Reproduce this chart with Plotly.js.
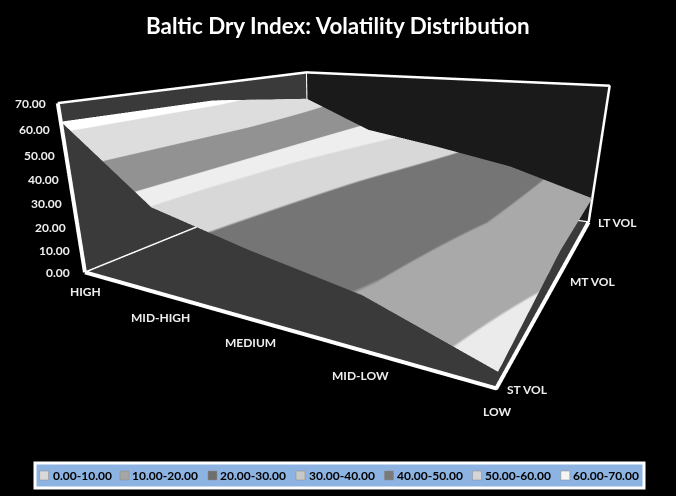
<!DOCTYPE html>
<html><head><meta charset="utf-8"><script src="https://cdn.plot.ly/plotly-3.0.1.min.js"></script>
<style>html,body{margin:0;padding:0;background:#000}#c{width:676px;height:496px}</style></head>
<body><div id="c"></div>
<script>
var categories=['HIGH','MID-HIGH','MEDIUM','MID-LOW','LOW'];
var seriesNames=['ST VOL','MT VOL','LT VOL'];
var stVol=[63,35,26.5,19.5,5.5];
var mtVol=[62,36,29,23,13];
var ltVol=[54,38,32,25,13];
var zTicks=[0,10,20,30,40,50,60,70];
var bandNames=['0.00-10.00','10.00-20.00','20.00-30.00','30.00-40.00','40.00-50.00','50.00-60.00','60.00-70.00'];
var swatchColors=['#d9d9d9','#a6a6a6','#6f6f6f','#c8c8c8','#7a7a7a','#d5d5d5','#f5f5f5'];
var bandEdges=[0,10,20,30,35.5,40,50,60,70];
var bandColors=['#ebebeb','#a9a9a9','#757575','#d8d8d8','#eeeeee','#929292','#dddddd','#ffffff'];
var P=[0.771,-1.536,0.406,0.137,-0.412,-0.077,1.123,1.139,0.449];
var catShift=[[1,-19],[-1,-24],[-1,-23],[-1,-25],[1,-23]];
var serShift=[[31,-1],[36,-1],[29,-1]];

var cs=[];bandColors.forEach(function(c,i){cs.push([bandEdges[i]/70,c]);cs.push([bandEdges[i+1]/70,c]);});
var axis={showgrid:false,zeroline:false,showticklabels:false,ticks:'',showspikes:false,title:{text:''},showbackground:true,showline:false};
var lf={family:'Lato',size:12,color:'#eee',weight:700};
var ann=[];
zTicks.forEach(function(v){ann.push({x:0,y:0,z:v,text:v.toFixed(2),showarrow:false,xshift:-27,yshift:0,font:lf})});
categories.forEach(function(c,i){ann.push({x:i,y:0,z:0,text:c,showarrow:false,xshift:catShift[i][0],yshift:catShift[i][1],font:lf})});
seriesNames.forEach(function(c,i){ann.push({x:4,y:i,z:0,text:c,showarrow:false,xshift:serShift[i][0],yshift:serShift[i][1],font:lf})});
var frameThin={type:'scatter3d',mode:'lines',hoverinfo:'skip',showlegend:false,line:{color:'#fff',width:5},
 x:[0,0,null,0,0,4,4,null,0,0,null,0,4],
 y:[2,0,null,0,2,2,2,null,2,2,null,2,2],
 z:[0,0,null,70,70,70,0,null,0,70,null,0,0]};
var frameThick={type:'scatter3d',mode:'lines',hoverinfo:'skip',showlegend:false,line:{color:'#fff',width:8},
 x:[0,0,null,0,4,4],
 y:[0,0,null,0,0,2],
 z:[70,0,null,0,0,0]};
var surf={type:'surface',x:[0,1,2,3,4],y:[0,1,2],z:[stVol,mtVol,ltVol],cmin:0,cmax:70,colorscale:cs,showscale:false,hoverinfo:'skip',
 lighting:{ambient:1,diffuse:0,specular:0,roughness:1,fresnel:0},contours:{x:{show:false},y:{show:false},z:{show:false}}};
var shapes=[{type:'rect',xref:'paper',yref:'paper',x0:35/676,x1:644/676,y0:1-488/496,y1:1-463/496,fillcolor:'#8db3e2',line:{color:'#fff',width:3}}];
var swX=[39.6,120,208,296,384.5,472.5,560.8],lbX=[50.6,130,218,306.6,394.7,483,571];
var anns=[{xref:'paper',yref:'paper',x:338/676,y:1-26/496,yanchor:'middle',text:'Baltic Dry Index: Volatility Distribution',showarrow:false,font:{family:'Lato',size:22.4,color:'#fff',weight:700}}];
bandNames.forEach(function(n,i){shapes.push({type:'rect',xref:'paper',yref:'paper',x0:swX[i]/676,x1:(swX[i]+9)/676,y0:1-480/496,y1:1-471/496,fillcolor:swatchColors[i],line:{color:'#888',width:.5}});
 anns.push({xref:'paper',yref:'paper',x:lbX[i]/676,y:1-475.5/496,xanchor:'left',yanchor:'middle',text:n,showarrow:false,font:{family:'Lato',size:12,color:'#000',weight:700}});});
var layout={width:676,height:496,margin:{l:0,r:0,t:0,b:0},paper_bgcolor:'#000',showlegend:false,shapes:shapes,annotations:anns,
 scene:{domain:{x:[0,1],y:[0,1]},bgcolor:'#000',aspectmode:'manual',aspectratio:{x:P[6],y:P[7],z:P[8]},
 camera:{eye:{x:P[0],y:P[1],z:P[2]},center:{x:P[3],y:P[4],z:P[5]},up:{x:0,y:0,z:1},projection:{type:'perspective'}},
 xaxis:Object.assign({},axis,{range:[0,4],backgroundcolor:'#3a3a3a'}),
 yaxis:Object.assign({},axis,{range:[0,2],backgroundcolor:'#1a1a1a'}),
 zaxis:Object.assign({},axis,{range:[0,70],backgroundcolor:'#3a3a3a'}),annotations:ann}};
Plotly.newPlot('c',[surf,frameThin,frameThick],layout,{displayModeBar:false});
</script></body></html>
